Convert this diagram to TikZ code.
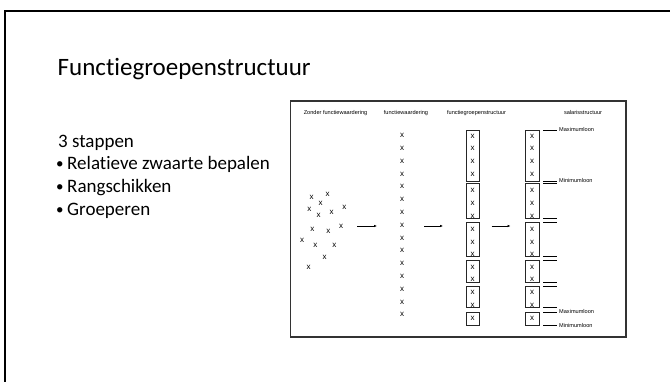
\documentclass[tikz,border=0pt]{standalone}
\usepackage{fontspec}
\setmainfont{Carlito}[Ligatures=NoCommon]
\newfontfamily\arialf{Liberation Sans}
\usetikzlibrary{arrows.meta}
\begin{document}
\begin{tikzpicture}[x=1pt,y=-1pt,
  hdr/.style={font=\arialf\fontsize{5.6}{6}\selectfont, inner sep=0pt, anchor=center},
  xm/.style={font=\arialf\fontsize{8}{9}\selectfont, inner sep=0pt, anchor=center},
  grp/.style={draw=black!85, line width=0.9pt},
  lvl/.style={draw=black, line width=0.7pt},
  arr/.style={-{Latex[length=3pt,width=2.6pt]}, line width=0.6pt},
  lbl/.style={font=\arialf\fontsize{5.6}{6}\selectfont, inner sep=0pt, anchor=west},
  bodytext/.style={font=\fontsize{19}{22}\selectfont, inner sep=0pt, anchor=base west},
  bul/.style={font=\fontsize{15}{16}\selectfont, inner sep=0pt, anchor=base west},
]
\useasboundingbox (0,0) rectangle (670,382);
\fill[white] (0,0) rectangle (670,382);
% slide frame
\draw[line width=2.2pt] (5.3,382) -- (5.3,10.8) -- (670,10.8);
% title and bullet text
\node[anchor=base west, inner sep=0pt, font=\fontsize{25}{30}\selectfont] (title) at (57.5,75.5) {Functiegroepenstructuur};
\node[bodytext] (t0) at (58,148) {3 stappen};
\node[bul] (b1) at (56,168.5) {•};
\node[bodytext] (t1) at (67,170) {Relatieve zwaarte bepalen};
\node[bul] (b2) at (56,191.5) {•};
\node[bodytext] (t2) at (67,193) {Rangschikken};
\node[bul] (b3) at (56,214.5) {•};
\node[bodytext] (t3) at (67,216) {Groeperen};
% diagram frame
\draw[draw=black!80, line width=1.2pt] (290.5,101) rectangle (626,337);
% headers
\node[hdr] (h1) at (335.5,113) {Zonder functiewaardering};
\node[hdr] (h2) at (406,113) {functiewaardering};
\node[hdr] (h3) at (476.5,113) {functiegroepenstructuur};
\node[hdr] (h4) at (583,113) {salarisstructuur};
% scattered x's
\foreach \px/\py [count=\k] in {311.7/197.3, 327.7/194, 320.7/203, 309.3/209.7, 318.7/215.3, 331.7/212.7, 344.3/207, 312.3/229, 328.3/231.7, 341/226, 302/240.3, 315.3/245, 334.3/245, 324.7/257.3, 308.7/267}
  \node[xm] (s\k) at (\px,\py) {x};
% ranked column
\foreach \i in {0,...,14}
  \node[xm] (r\i) at (402,135.5+12.8*\i) {x};
% arrows
\coordinate (a1s) at (357,226); \coordinate (a1e) at (377,226);
\coordinate (a2s) at (424,226); \coordinate (a2e) at (443,226);
\coordinate (a3s) at (491.5,226); \coordinate (a3e) at (510.5,226);
\draw[arr] (a1s) -- (a1e);
\draw[arr] (a2s) -- (a2e);
\draw[arr] (a3s) -- (a3e);
% grouped columns
\foreach \cx/\bl/\br/\nm in {472.5/466/479.5/g, 532/525/539.5/s} {
  \draw[grp] (\bl,130) rectangle (\br,181);
  \draw[grp] (\bl,183.5) rectangle (\br,218.5);
  \draw[grp] (\bl,222) rectangle (\br,256.5);
  \draw[grp] (\bl,260) rectangle (\br,282);
  \draw[grp] (\bl,286) rectangle (\br,307.5);
  \draw[grp] (\bl,312) rectangle (\br,325);
  \foreach \yy [count=\j] in {136,148.5,161,174,190,203,216,229,242,254.5,267,279.5,292.5,305,318.5}
    \node[xm] (\nm\j) at (\cx,\yy) {x};
}
% salary levels
\foreach \yy [count=\j] in {130,181,183.5,218.5,222,256.5,260,282,286,307.5,312,325} {
  \coordinate (l\j a) at (543,\yy);
  \coordinate (l\j b) at (557,\yy);
  \draw[lvl] (l\j a) -- (l\j b);
}
\node[lbl] (m1) at (559,130) {Maximumloon};
\node[lbl] (m2) at (559,181) {Minimumloon};
\node[lbl] (m3) at (559,311) {Maximumloon};
\node[lbl] (m4) at (559,325) {Minimumloon};
\end{tikzpicture}
\end{document}
